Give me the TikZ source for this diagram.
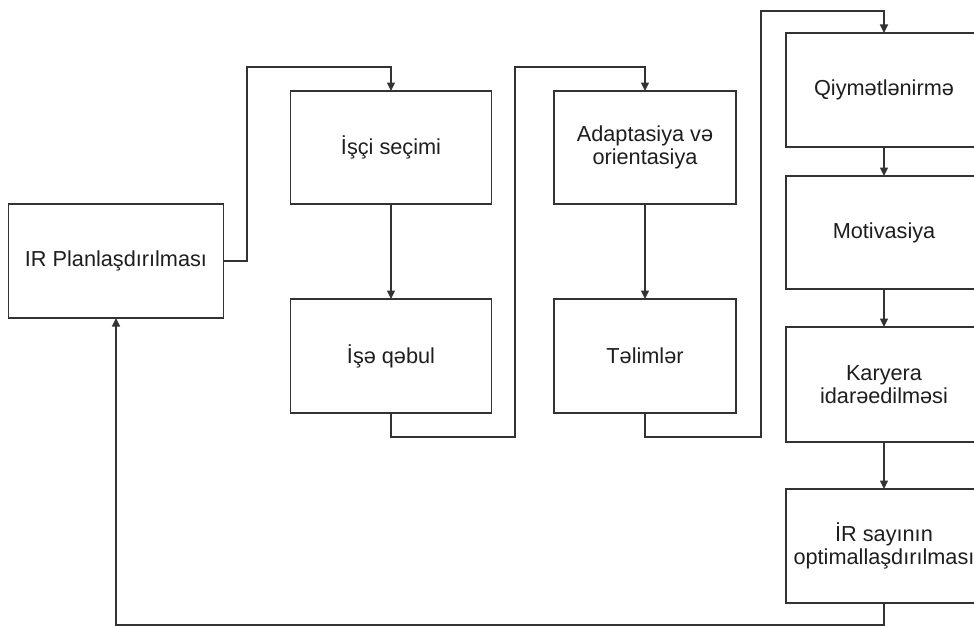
\documentclass[tikz,border=0pt]{standalone}
\usepackage{fontspec}
\setmainfont{Liberation Sans}
\usetikzlibrary{arrows.meta}
\definecolor{ln}{HTML}{333333}
\definecolor{tx}{HTML}{1E1E1E}
\begin{document}
\begin{tikzpicture}[x=1pt,y=-1pt,
  box/.style={draw=ln,line width=1.5pt,rectangle,inner sep=0pt,outer sep=0pt,
    align=center,text=tx,font=\fontsize{21.7}{23.5}\selectfont},
  arr/.style={draw=ln,line width=1.5pt,-{Triangle[length=8.5pt,width=8pt]}}]
\clip (0,0) rectangle (974,626);
\fill[white] (0,0) rectangle (974,626);
\node[box,minimum width=215pt,minimum height=114pt] (plan) at (116,261) {IR Planlaşdırılması};
\node[box,minimum width=201pt,minimum height=113pt] (sel) at (391,147.5) {İşçi seçimi};
\node[box,minimum width=201pt,minimum height=114pt] (hire) at (391,356) {İşə qəbul};
\node[box,minimum width=182pt,minimum height=113pt] (adapt) at (645,147.5) {Adaptasiya və\\orientasiya};
\node[box,minimum width=182pt,minimum height=114pt] (train) at (645,356) {Təlimlər};
\node[box,minimum width=196pt,minimum height=114pt] (eval) at (884,90) {Qiymətlənirmə};
\node[box,minimum width=196pt,minimum height=113pt] (motiv) at (884,232.5) {Motivasiya};
\node[box,minimum width=196pt,minimum height=115pt] (career) at (884,384.5) {Karyera\\idarəedilməsi};
\node[box,minimum width=196pt,minimum height=114pt] (opt) at (884,546) {İR sayının\\optimallaşdırılması};
\draw[arr] (plan.east) -| (247,67) -| (sel.north);
\draw[arr] (sel.south) -- (hire.north);
\draw[arr] (hire.south) |- (515,437) |- (645,67) -- (adapt.north);
\draw[arr] (adapt.south) -- (train.north);
\draw[arr] (train.south) |- (761,437) |- (884,11) -- (eval.north);
\draw[arr] (eval.south) -- (motiv.north);
\draw[arr] (motiv.south) -- (career.north);
\draw[arr] (career.south) -- (opt.north);
\draw[arr] (opt.south) |- (116,625) -- (plan.south);
\end{tikzpicture}
\end{document}
